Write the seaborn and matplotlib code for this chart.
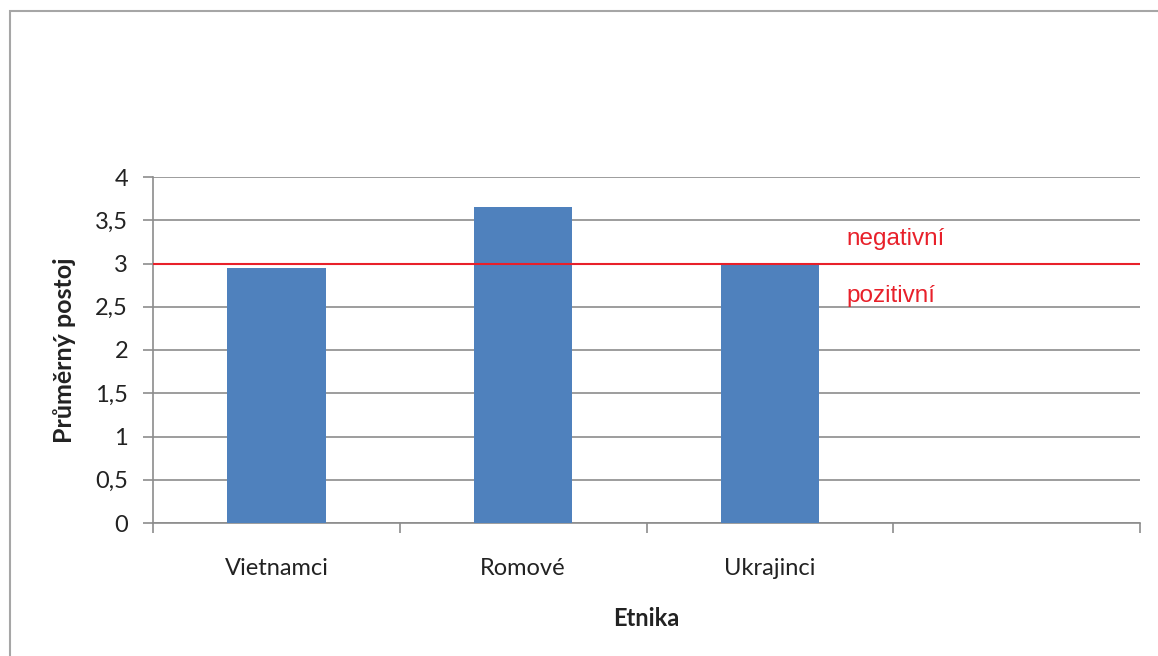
import matplotlib
matplotlib.use("Agg")
import matplotlib.pyplot as plt
import seaborn as sns
import pandas as pd
from matplotlib.patches import Rectangle

categories = ["Vietnamci", "Romové", "Ukrajinci"]
values = [2.95, 3.65, 3.0]
y_ticks = [0, 0.5, 1, 1.5, 2, 2.5, 3, 3.5, 4]
y_tick_labels = ["0", "0,5", "1", "1,5", "2", "2,5", "3", "3,5", "4"]
threshold = 3.0
x_label = "Etnika"
y_label = "Průměrný postoj"
above_label = "negativní"
below_label = "pozitivní"

sns.set_style("white")
plt.rcParams["font.family"] = ["Lato", "DejaVu Sans"]

df = pd.DataFrame({"Etnika": categories, "postoj": values})

fig = plt.figure(figsize=(11.58, 6.56), dpi=100)
ax = fig.add_axes([153 / 1158, 1 - 523 / 656, (1140 - 153) / 1158, (523 - 177) / 656])

# outer chart frame
fig.patches.append(Rectangle((10 / 1158, -0.05), 1.1, 1 - 11 / 656 + 0.05,
                             transform=fig.transFigure, fill=False,
                             edgecolor="#a6a6a6", linewidth=1.5, zorder=0))

sns.barplot(data=df, x="Etnika", y="postoj", color="#4f81bd", width=0.4,
            saturation=1, linewidth=0, ax=ax, zorder=3)

ax.set_xlim(-0.5, 3.5)
ax.set_ylim(0, 4)
ax.set_yticks(y_ticks)
ax.set_yticklabels(y_tick_labels)
ax.yaxis.grid(True, color="#8c8c8c", linewidth=1.2, zorder=0)
ax.set_axisbelow(True)

# category labels at centres, tick marks between categories
ax.set_xticks(range(len(categories)))
ax.set_xticklabels(categories)
ax.set_xticks([-0.5, 0.5, 1.5, 2.5, 3.5], minor=True)
ax.tick_params(axis="x", which="major", length=0, pad=25, labelsize=17, colors="#222222")
ax.tick_params(axis="x", which="minor", length=7, width=1.2, color="#8c8c8c",
               direction="out", bottom=True)
ax.tick_params(axis="y", which="major", length=7, width=1.2, color="#8c8c8c",
               direction="out", labelsize=17, pad=11, labelcolor="#222222", left=True)

for side in ["top", "right"]:
    ax.spines[side].set_visible(False)
for side in ["left", "bottom"]:
    ax.spines[side].set_color("#8c8c8c")
    ax.spines[side].set_linewidth(1.2)

ax.axhline(threshold, color="#e8202a", linewidth=1.5, zorder=4)
ax.text(2.31, 3.28, above_label, color="#e8202a", fontsize=17.5,
        family=["Liberation Sans", "DejaVu Sans"], va="center", ha="left")
ax.text(2.31, 2.62, below_label, color="#e8202a", fontsize=17.5,
        family=["Liberation Sans", "DejaVu Sans"], va="center", ha="left")

ax.set_xlabel(x_label, fontsize=17, fontweight="bold", labelpad=20, color="#222222")
ax.set_ylabel(y_label, fontsize=18, fontweight="bold", labelpad=14, color="#222222")

fig.savefig("out.png", dpi=100)
